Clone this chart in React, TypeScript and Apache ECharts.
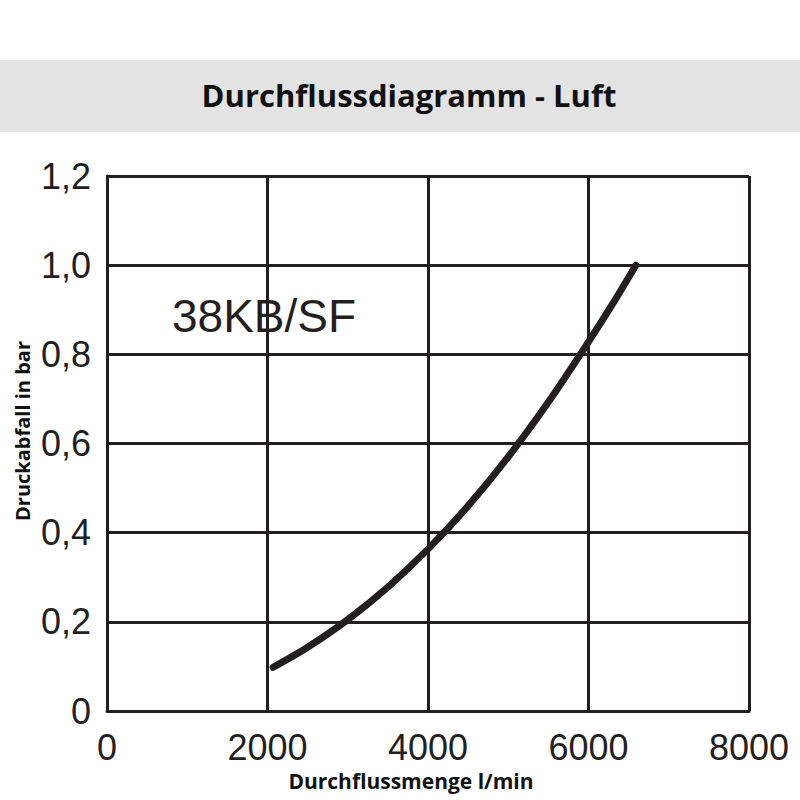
import React, { useEffect, useRef } from "react";
import * as echarts from "echarts";

const flowLpm = [2070, 2500, 3000, 3500, 4000, 4500, 5000, 5500, 6000, 6300, 6590];
const pressureBar = [0.098, 0.143, 0.205, 0.278, 0.363, 0.46, 0.57, 0.693, 0.828, 0.913, 1.0];
const titleText = "Durchflussdiagramm - Luft";
const curveLabel = "38KB/SF";
const xName = "Durchflussmenge l/min";
const yName = "Druckabfall in bar";

export default function App() {
  const ref = useRef<HTMLDivElement>(null);
  useEffect(() => {
    if (!ref.current) return;
    const chart = echarts.init(ref.current, null, { renderer: "svg" });
    const ink = "#231f20";
    const tickFont = "'Liberation Sans', Arial, sans-serif";
    chart.setOption({
      animation: false,
      backgroundColor: "#ffffff",
      graphic: [
        {
          type: "rect",
          left: 0,
          top: 60,
          shape: { width: 800, height: 72 },
          style: { fill: "#e3e3e3" },
          z: -1,
        },
        {
          type: "text",
          x: 409,
          y: 95,
          style: {
            text: titleText,
            font: "bold 31px 'Open Sans', sans-serif",
            fill: "#111111",
            align: "center",
            verticalAlign: "middle",
          },
        },
        {
          type: "text",
          x: 172,
          y: 316,
          style: {
            text: curveLabel,
            font: "46px 'Liberation Sans', Arial, sans-serif",
            fill: ink,
            verticalAlign: "middle",
          },
        },
        {
          type: "text",
          x: 411,
          y: 781,
          style: {
            text: xName,
            font: "bold 21px 'Open Sans', sans-serif",
            fill: "#111111",
            align: "center",
            verticalAlign: "middle",
          },
        },
        {
          type: "text",
          x: 22,
          y: 431,
          rotation: Math.PI / 2,
          style: {
            text: yName,
            font: "bold 20px 'Open Sans', sans-serif",
            fill: "#111111",
            align: "center",
            verticalAlign: "middle",
          },
        },
      ],
      grid: { left: 107, right: 51, top: 176, bottom: 89, containLabel: false },
      xAxis: {
        type: "value",
        min: 0,
        max: 8000,
        interval: 2000,
        axisLine: { show: true, lineStyle: { color: ink, width: 3 } },
        axisTick: { show: false },
        splitLine: { show: true, lineStyle: { color: ink, width: 3 } },
        axisLabel: {
          margin: 18,
          fontFamily: tickFont,
          fontSize: 36,
          lineHeight: 36,
          color: ink,
          formatter: (v: number) => String(v),
        },
      },
      yAxis: {
        type: "value",
        min: 0,
        max: 1.2,
        interval: 0.2,
        axisLine: { show: true, lineStyle: { color: ink, width: 3 } },
        axisTick: { show: false },
        splitLine: { show: true, lineStyle: { color: ink, width: 3 } },
        axisLabel: {
          margin: 16,
          fontFamily: tickFont,
          fontSize: 36,
          color: ink,
          formatter: (v: number) => (v === 0 ? "0" : v.toFixed(1).replace(".", ",")),
        },
      },
      series: [
        {
          type: "line",
          data: flowLpm.map((x, i) => [x, pressureBar[i]]),
          smooth: 0.3,
          showSymbol: false,
          lineStyle: { color: ink, width: 7, cap: "round" },
          z: 5,
        },
      ],
    });
    return () => chart.dispose();
  }, []);
  return (
    <div
      ref={ref}
      style={{ position: "fixed", left: 0, top: 0, width: 800, height: 800 }}
    />
  );
}
